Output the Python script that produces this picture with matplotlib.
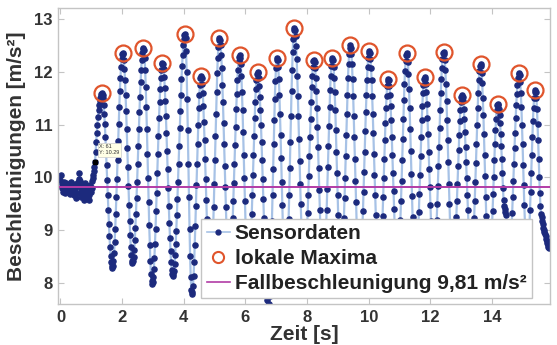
import numpy as np
import matplotlib
matplotlib.use("Agg")
import matplotlib.pyplot as plt
from matplotlib.lines import Line2D

plt.rcParams['font.family'] = ['Liberation Sans', 'DejaVu Sans']
plt.rcParams['font.weight'] = 'bold'

# Abtastrate der Sensordaten [Hz]
fs = 53.5
g_erde = 9.81

# Sensordaten [m/s^2]
acc_ruhe = [
    9.95, 10.05, 9.88, 9.80, 9.72, 9.85, 9.92, 9.78, 9.70, 9.83,
    9.90, 9.76, 9.81, 9.74, 9.86, 9.79, 9.68, 9.82, 9.91, 9.77,
    9.72, 9.84, 9.80, 9.66, 9.75, 9.88, 9.79, 9.60, 9.71, 9.83,
    9.92, 9.85, 9.97, 10.08, 9.94, 9.78, 9.62, 9.70, 9.86, 9.74,
    9.58, 9.67, 9.82, 9.90, 9.76, 9.63, 9.71, 9.84, 9.69, 9.57,
    9.66, 9.78, 9.85, 9.72, 9.80, 9.93,
]
acc_anstieg = [9.98, 10.05, 10.13, 10.20, 10.29, 10.48, 10.67, 10.85, 11.00,
               11.15, 11.28, 11.38, 11.45, 11.50, 11.55, 11.58, 11.60]

acc_block1 = [
    11.57, 11.50, 11.38, 11.21, 11.01, 10.77, 10.51, 10.23, 9.95, 9.66, 9.38, 9.12, 8.88, 8.68, 8.51, 8.39, 8.32, 8.29,
    8.32, 8.41, 8.56, 8.77, 9.02, 9.31, 9.63, 9.97, 10.33, 10.68, 11.02, 11.34, 11.63, 11.88, 12.09, 12.24, 12.33, 12.36,
    12.33, 12.22, 12.06, 11.84, 11.57, 11.26, 10.92, 10.55, 10.19, 9.83, 9.48, 9.17, 8.90, 8.68, 8.52, 8.41, 8.38,
    8.41, 8.49, 8.62, 8.81, 9.04, 9.31, 9.60, 9.92, 10.25, 10.59, 10.92, 11.24, 11.53, 11.80, 12.03, 12.22, 12.35, 12.43, 12.46,
    12.41, 12.27, 12.03, 11.72, 11.34, 10.91, 10.45, 9.99, 9.53, 9.10, 8.72, 8.41, 8.17, 8.03, 7.98,
    8.01, 8.11, 8.26, 8.47, 8.73, 9.03, 9.36, 9.71, 10.08, 10.44, 10.79, 11.12, 11.42, 11.68, 11.89, 12.04, 12.14, 12.17,
    12.14, 12.05, 11.90, 11.70, 11.45, 11.16, 10.84, 10.50, 10.15, 9.80, 9.46, 9.14, 8.85, 8.60, 8.40, 8.25, 8.16, 8.13,
    8.16, 8.23, 8.35, 8.53, 8.74, 8.99, 9.28, 9.59, 9.92, 10.26, 10.59, 10.93, 11.26, 11.57, 11.86, 12.11, 12.32, 12.50, 12.62, 12.69, 12.72,
    12.64, 12.39, 12.00, 11.49, 10.89, 10.26, 9.62, 9.02, 8.51, 8.12, 7.87, 7.79,
    7.83, 7.95, 8.14, 8.39, 8.71, 9.07, 9.45, 9.86, 10.26, 10.64, 11.00, 11.32, 11.57, 11.76, 11.88, 11.92,
    11.88, 11.77, 11.59, 11.35, 11.05, 10.71, 10.34, 9.96, 9.58, 9.21, 8.87, 8.57, 8.33, 8.15, 8.04, 8.00,
    8.04, 8.18, 8.39, 8.68, 9.03, 9.44, 9.87, 10.33, 10.78, 11.21, 11.62, 11.97, 12.26, 12.47, 12.60, 12.65,
]
acc_block2 = [
    12.61, 12.50, 12.32, 12.07, 11.76, 11.42, 11.03, 10.63, 10.22, 9.82, 9.43, 9.09, 8.78, 8.53, 8.35, 8.24, 8.20,
    8.23, 8.32, 8.48, 8.68, 8.94, 9.23, 9.56, 9.90, 10.26, 10.62, 10.96, 11.29, 11.58, 11.84, 12.04, 12.20, 12.29, 12.32,
    12.27, 12.14, 11.92, 11.62, 11.27, 10.86, 10.43, 9.99, 9.56, 9.16, 8.80, 8.50, 8.28, 8.15, 8.10,
    8.14, 8.25, 8.43, 8.67, 8.97, 9.31, 9.67, 10.05, 10.43, 10.79, 11.13, 11.43, 11.67, 11.85, 11.96, 12.00,
    11.97, 11.88, 11.73, 11.53, 11.28, 10.99, 10.67, 10.32, 9.96, 9.59, 9.23, 8.88, 8.56, 8.27, 8.02, 7.82, 7.67, 7.58, 7.55,
    7.60, 7.75, 8.00, 8.33, 8.73, 9.18, 9.66, 10.16, 10.64, 11.09, 11.49, 11.82, 12.07, 12.22, 12.27,
    12.22, 12.09, 11.86, 11.57, 11.20, 10.80, 10.36, 9.91, 9.47, 9.07, 8.70, 8.41, 8.18, 8.05, 8.00,
    8.05, 8.21, 8.46, 8.80, 9.21, 9.67, 10.17, 10.67, 11.17, 11.63, 12.04, 12.38, 12.63, 12.79, 12.84,
    12.80, 12.68, 12.49, 12.24, 11.92, 11.55, 11.16, 10.73, 10.31, 9.88, 9.49, 9.12, 8.80, 8.55, 8.36, 8.24, 8.20,
    8.23, 8.34, 8.50, 8.72, 9.00, 9.32, 9.66, 10.03, 10.40, 10.77, 11.11, 11.43, 11.71, 11.93, 12.09, 12.20, 12.23,
    12.19, 12.07, 11.88, 11.63, 11.31, 10.95, 10.57, 10.17, 9.76, 9.38, 9.02, 8.70, 8.45, 8.26, 8.14, 8.10,
    8.14, 8.26, 8.45, 8.71, 9.03, 9.39, 9.78, 10.19, 10.59, 10.98, 11.34, 11.66, 11.92, 12.11, 12.23, 12.27,
]
acc_block3 = [
    12.23, 12.10, 11.89, 11.61, 11.28, 10.90, 10.49, 10.08, 9.67, 9.29, 8.95, 8.68, 8.47, 8.34, 8.30,
    8.34, 8.46, 8.65, 8.91, 9.23, 9.60, 9.99, 10.40, 10.81, 11.20, 11.57, 11.89, 12.15, 12.34, 12.46, 12.50,
    12.46, 12.34, 12.14, 11.87, 11.55, 11.17, 10.77, 10.35, 9.93, 9.53, 9.15, 8.83, 8.56, 8.36, 8.24, 8.20,
    8.24, 8.34, 8.52, 8.75, 9.04, 9.36, 9.72, 10.11, 10.49, 10.88, 11.24, 11.56, 11.85, 12.09, 12.26, 12.36, 12.40,
    12.36, 12.25, 12.08, 11.84, 11.54, 11.21, 10.84, 10.45, 10.05, 9.66, 9.29, 8.96, 8.66, 8.42, 8.25, 8.14, 8.10,
    8.14, 8.24, 8.42, 8.65, 8.94, 9.26, 9.62, 9.99, 10.35, 10.71, 11.03, 11.32, 11.55, 11.73, 11.83, 11.87,
    11.84, 11.73, 11.57, 11.35, 11.08, 10.77, 10.43, 10.09, 9.74, 9.40, 9.09, 8.82, 8.60, 8.44, 8.34, 8.30,
    8.34, 8.45, 8.64, 8.89, 9.20, 9.55, 9.93, 10.33, 10.73, 11.11, 11.46, 11.77, 12.02, 12.21, 12.32, 12.36,
    12.31, 12.18, 11.96, 11.67, 11.32, 10.92, 10.50, 10.06, 9.64, 9.24, 8.89, 8.60, 8.38, 8.25, 8.20,
    8.24, 8.34, 8.51, 8.74, 9.02, 9.34, 9.69, 10.05, 10.41, 10.76, 11.08, 11.36, 11.59, 11.76, 11.86, 11.90,
    11.87, 11.77, 11.61, 11.39, 11.12, 10.82, 10.49, 10.15, 9.81, 9.48, 9.18, 8.91, 8.69, 8.53, 8.43, 8.40,
    8.43, 8.54, 8.70, 8.92, 9.19, 9.50, 9.84, 10.21, 10.57, 10.94, 11.28, 11.59, 11.86, 12.08, 12.24, 12.35, 12.38,
]
acc_block4 = [
    12.34, 12.22, 12.03, 11.77, 11.45, 11.09, 10.70, 10.29, 9.88, 9.49, 9.13, 8.81, 8.55, 8.36, 8.24, 8.20,
    8.23, 8.33, 8.48, 8.69, 8.95, 9.24, 9.55, 9.88, 10.21, 10.52, 10.81, 11.07, 11.28, 11.43, 11.53, 11.56,
    11.53, 11.44, 11.29, 11.10, 10.86, 10.58, 10.29, 9.98, 9.67, 9.38, 9.10, 8.86, 8.67, 8.52, 8.43, 8.40,
    8.44, 8.54, 8.72, 8.95, 9.23, 9.56, 9.91, 10.28, 10.64, 10.99, 11.32, 11.60, 11.84, 12.01, 12.11, 12.15,
    12.11, 11.98, 11.78, 11.51, 11.19, 10.82, 10.43, 10.02, 9.63, 9.26, 8.94, 8.67, 8.47, 8.34, 8.30,
    8.33, 8.43, 8.59, 8.81, 9.08, 9.37, 9.69, 10.01, 10.33, 10.63, 10.89, 11.11, 11.27, 11.37, 11.40,
    11.37, 11.30, 11.19, 11.03, 10.83, 10.60, 10.35, 10.08, 9.80, 9.58, 9.46, 9.40, 9.35, 9.28, 9.10, 8.80, 8.50, 8.20,
    8.23, 8.30, 8.43, 8.60, 8.81, 9.06, 9.33, 9.63, 9.94, 10.25, 10.55, 10.85, 11.12, 11.37, 11.58, 11.75, 11.88, 11.95, 11.98,
    11.94, 11.81, 11.60, 11.33, 11.00, 10.63, 10.24, 9.85, 9.48, 9.15, 8.88, 8.67, 8.54, 8.50,
    8.54, 8.66, 8.84, 9.09, 9.39, 9.73, 10.08, 10.43, 10.77, 11.07, 11.32, 11.50, 11.62, 11.66,
    11.62, 11.50, 11.30, 11.02, 10.70, 10.35, 10.00, 9.70, 9.45, 9.30, 9.24, 9.18, 9.12, 9.05,
    9.00, 8.96, 8.92, 8.88, 8.84, 8.80, 8.76, 8.72, 8.69, 8.67,
]

acc = np.array(acc_ruhe + acc_anstieg + acc_block1 + acc_block2 + acc_block3 + acc_block4)
t = np.arange(len(acc)) / fs

# lokale Maxima (Peaks ueber 11 m/s^2)
mitte = acc[1:-1]
idx = np.where((mitte > acc[:-2]) & (mitte > acc[2:]) & (mitte > 11))[0] + 1

c_linie = '#a7c2e6'
c_punkt = '#1c2a7d'
c_max = '#e0552c'
c_g = '#b23ca6'

fig = plt.figure(figsize=(5.57, 3.45), dpi=100)
ax = fig.add_axes([0.1047, 0.1188, 0.8827, 0.858])

ax.plot(t, acc, '-', color=c_linie, lw=1.6, marker='o', ms=3.7,
        mfc=c_punkt, mec=c_punkt, zorder=2)
ax.plot(t[idx], acc[idx], 'o', ms=11.5, mfc='none', mec=c_max, mew=1.6, zorder=3)
ax.plot([t[0], t[-1] + 0.05], [g_erde, g_erde], '-', color=c_g, lw=1.4, zorder=4)

# Datentip wie in MATLAB
i_tip = 60
ax.plot(t[i_tip], acc[i_tip], 's', color='black', ms=3, zorder=5)
ax.annotate(f'X: {i_tip + 1}\nY: {acc[i_tip]:.2f}', xy=(t[i_tip], acc[i_tip]),
            xytext=(3, 5), textcoords='offset points', fontsize=4, fontweight='normal',
            color='#333333', va='bottom', ha='left', zorder=6,
            bbox=dict(boxstyle='square,pad=0.3', fc='#ffffe6', ec='#cccccc', lw=0.5))

ax.set_xlim(-0.07, 15.88)
ax.set_ylim(7.6, 13.21)
ax.set_xticks(range(0, 15, 2))
ax.set_yticks(range(8, 14))

for s in ax.spines.values():
    s.set_color('#c4c4c4')
    s.set_linewidth(1.0)
ax.tick_params(direction='in', length=4, color='#c4c4c4', top=True, right=True,
               labelsize=12, labelcolor='#333333', pad=4)
for lab in ax.get_xticklabels() + ax.get_yticklabels():
    lab.set_fontweight('bold')

ax.set_xlabel('Zeit [s]', fontsize=15, fontweight='bold', color='#333333', labelpad=0)
ax.set_ylabel('Beschleunigungen [m/s²]', fontsize=15, fontweight='bold', color='#333333', labelpad=6)

handles = [
    Line2D([], [], color=c_linie, lw=1.2, marker='o', ms=3.5, mfc=c_punkt, mec=c_punkt),
    Line2D([], [], ls='none', marker='o', ms=8, mfc='none', mec=c_max, mew=1.5),
    Line2D([], [], color=c_g, lw=1.2),
]
labels = ['Sensordaten', 'lokale Maxima', 'Fallbeschleunigung 9,81 m/s²']
leg = ax.legend(handles, labels, loc='lower right', bbox_to_anchor=(0.963, 0.02), fontsize=15,
                frameon=True, fancybox=False, framealpha=1, edgecolor='#c4c4c4',
                handlelength=1.1, handletextpad=0.25, labelspacing=0.28,
                borderpad=0.25, borderaxespad=0.0)
leg.get_frame().set_linewidth(1.0)
for txt in leg.get_texts():
    txt.set_color('#222222')
    txt.set_fontweight('bold')
leg.set_zorder(10)

fig.savefig('out.png', dpi=100, facecolor='white')
